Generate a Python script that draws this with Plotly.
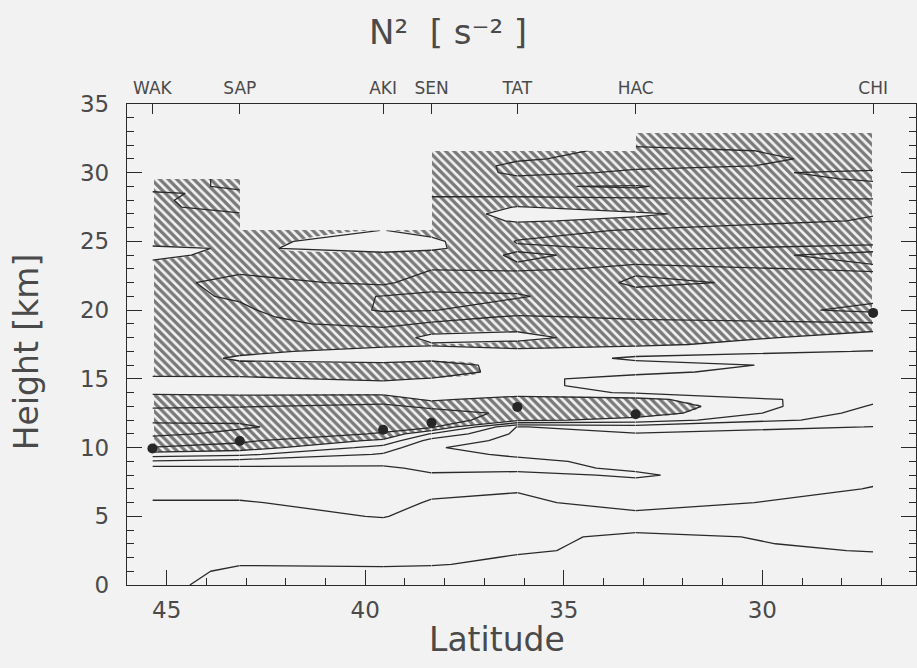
import plotly.graph_objects as go

# ---------------- data ----------------
stations = ["WAK", "SAP", "AKI", "SEN", "TAT", "HAC", "CHI"]
station_lat = [45.36, 43.16, 39.55, 38.33, 36.17, 33.19, 27.21]
data_top_km = [29.55, 29.55, 25.8, 31.6, 31.6, 32.9, 32.9]
tropopause_km = [9.93, 10.48, 11.3, 11.8, 12.96, 12.43, 19.8]

heights_km = [0, 1, 1.5, 2, 2.5, 3, 3.5, 4, 5, 6,
              7, 8, 8.5, 9, 9.5, 10, 10.5, 11, 11.5, 12,
              12.5, 13, 13.5, 14, 14.5, 15, 15.5, 16, 16.5, 17,
              17.5, 18, 18.5, 19, 19.5, 20, 21, 22, 23, 24,
              24.5, 25, 25.8, 26.5, 27, 27.5, 28, 28.5, 29, 29.55,
              30, 30.5, 31, 31.6, 32.2, 32.9]

# N^2 profiles (units of 1e-4 s^-2), one per station, up to each station's data top
n2_wak = [0.7, 0.7, 0.7, 0.7, 0.72, 0.74, 0.76, 0.8, 0.88, 0.96,
          1.2, 1.5, 1.7, 2.9, 4.5, 5.95, 6.6, 7.2, 7.3, 6.8,
          6.3, 5.9, 5.6, 4.8, 4.3, 4.7, 5.5, 5.7, 5.85, 5.9,
          5.85, 5.8, 5.8, 5.8, 5.8, 5.8, 5.75, 5.7, 5.7, 4.6,
          4.7, 5.6, 5.75, 5.8, 5.82, 5.85, 5.9, 5.97, 6.1, 6.2]
n2_sap = [1.4, 1.15, 0.97, 0.9, 0.85, 0.82, 0.8, 0.8, 0.86, 0.96,
          1.2, 1.5, 1.8, 2.6, 4.2, 5.6, 6.2, 6.8, 7.1, 6.9,
          6.4, 5.95, 5.5, 4.7, 4.3, 4.8, 5.4, 5.3, 4.8, 5.3,
          5.6, 5.7, 5.75, 5.8, 5.8, 5.85, 6.1, 6.3, 5.8, 5.5,
          5.15, 5.3, 5.95, 5.8, 5.95, 6.3, 6.3, 6.05, 5.95, 5.9]
n2_aki = [1.4, 1.1, 0.95, 0.9, 0.85, 0.83, 0.82, 0.82, 1.02, 1.2,
          1.35, 1.6, 1.85, 2.3, 2.9, 3.6, 4.8, 5.9, 6.4, 6.6,
          6.5, 6.2, 5.6, 4.7, 4.5, 5.2, 5.6, 5.3, 4.5, 4.5,
          5.3, 5.6, 5.8, 6.2, 6.6, 7.1, 7.05, 5.8, 5.6, 5.3,
          4.6, 4.5, 4.98]
n2_sen = [1.5, 1.15, 0.97, 0.9, 0.85, 0.82, 0.8, 0.8, 0.85, 0.95,
          1.15, 1.9, 2.2, 2.3, 2.2, 2.05, 2.6, 3.9, 6.2, 6.6,
          6.4, 5.8, 4.8, 4.4, 4.5, 4.9, 5.8, 5.6, 4.6, 4.6,
          5.1, 4.7, 5.3, 5.9, 6.3, 7.05, 7.2, 6.6, 5.95, 5.5,
          4.8, 4.8, 5.3, 5.6, 5.7, 5.8, 5.9, 6.1, 6.2, 6.3,
          6.3, 6.4, 6.5, 6.6]
n2_tat = [1.4, 1.2, 1.1, 1.03, 0.96, 0.92, 0.9, 0.88, 0.88, 0.95,
          1.02, 1.8, 2.2, 2.15, 1.9, 1.75, 1.7, 1.8, 1.95, 5.3,
          5.8, 5.9, 5.5, 4.4, 4.2, 4.1, 4.4, 4.5, 4.4, 4.8,
          5.3, 4.7, 5.05, 5.6, 5.9, 6.4, 7.1, 6.6, 5.9, 6.1,
          5.9, 6.05, 5.6, 4.9, 4.6, 4.95, 5.8, 6.2, 6.05, 6.8,
          7.2, 7.2, 6.9, 6.7]
n2_hac = [1.5, 1.3, 1.2, 1.12, 1.08, 1.1, 1.08, 0.95, 0.93, 1.1,
          1.6, 2.1, 1.9, 1.8, 1.75, 1.8, 1.85, 1.95, 2.5, 4.6,
          5.6, 5.8, 5.3, 3.9, 3.7, 3.85, 4.1, 4.2, 3.9, 4.3,
          5.2, 5.6, 5.7, 5.8, 6.1, 6.3, 6.2, 5.9, 6.1, 5.8,
          6.05, 6.2, 6.1, 5.2, 4.85, 5.4, 5.9, 6.2, 5.95, 6.4,
          6.9, 7.1, 7.3, 7.2, 6.8, 6.6]
n2_chi = [1.3, 1.2, 1.12, 1.05, 0.99, 0.93, 0.9, 0.88, 0.88, 0.9,
          0.97, 1.15, 1.3, 1.45, 1.6, 1.7, 1.8, 1.9, 1.98, 2.3,
          2.6, 2.9, 3.2, 3.4, 3.5, 3.6, 3.7, 3.8, 3.9, 3.97,
          4.3, 4.6, 5.05, 5.9, 6.5, 7.2, 6.8, 6.2, 5.95, 6.1,
          5.9, 6.1, 6.2, 6.1, 5.95, 5.9, 5.95, 6.2, 6.8, 7.1,
          7.05, 6.9, 6.85, 6.8, 6.7, 6.6]

profiles = [n2_wak, n2_sap, n2_aki, n2_sen, n2_tat, n2_hac, n2_chi]
contour_levels = dict(start=1, end=9, size=1)
hatch_threshold = 5

# ---------------- style ----------------
BG = "#f2f2f2"
INK = "#2a2a2a"
TXT = "#4a4a4a"
FONT = "DejaVu Sans"
XR = [46, 26.13]
EDGE_INSET = 0.03   # keeps the hatching from peeking out at the outer fill edges

fig = go.Figure()

# hatched data blocks (station to station, up to the lower data top)
n_blocks = len(stations) - 1
for i in range(n_blocks):
    top = min(data_top_km[i], data_top_km[i + 1])
    left = station_lat[i] - (EDGE_INSET if i == 0 else 0)
    right = station_lat[i + 1] + (EDGE_INSET if i == n_blocks - 1 else 0)
    fig.add_trace(go.Bar(
        x=[(left + right) / 2], y=[top], base=0, width=[left - right],
        marker=dict(color=BG, line=dict(width=0),
                    pattern=dict(shape="\\", fgcolor="#000000", bgcolor=BG,
                                 size=6, solidity=0.55)),
        xaxis="x", yaxis="y", hoverinfo="skip", showlegend=False))

# one fill trace over all stations: blank out where N2 is below the threshold
order = list(range(len(stations)))[::-1]          # increasing latitude
fill_x = [station_lat[j] for j in order]
fill_z = [[(-profiles[j][k] if k < len(profiles[j]) else None) for j in order]
          for k in range(len(heights_km))]
fig.add_trace(go.Contour(
    x=fill_x, y=heights_km, z=fill_z, connectgaps=True,
    autocontour=False,
    contours=dict(start=-hatch_threshold, end=-hatch_threshold, size=1,
                  coloring="fill", showlines=False),
    colorscale=[[0, "rgba(242,242,242,0)"], [1, BG]],
    showscale=False, line=dict(width=0), hoverinfo="skip",
    xaxis="x2", yaxis="y"))

# contour lines per block (overlay subplot so that they sit above the hatching)
for i in range(n_blocks):
    top = min(data_top_km[i], data_top_km[i + 1])
    rows = [k for k, h in enumerate(heights_km) if h <= top + 1e-9]
    ys = [heights_km[k] for k in rows]
    xs = [station_lat[i + 1], station_lat[i]]
    zs = [[profiles[i + 1][k], profiles[i][k]] for k in rows]
    fig.add_trace(go.Contour(
        x=xs, y=ys, z=zs, autocontour=False,
        contours=dict(coloring="none", **contour_levels),
        line=dict(color=INK, width=1.3, smoothing=0),
        showscale=False, hoverinfo="skip", xaxis="x2", yaxis="y"))

# tropopause dots
fig.add_trace(go.Scatter(
    x=station_lat, y=tropopause_km, mode="markers",
    marker=dict(color="#262626", size=10),
    xaxis="x2", yaxis="y", hoverinfo="skip", showlegend=False))

axis_common = dict(showgrid=False, zeroline=False, linecolor=INK, linewidth=1.3,
                   tickcolor=INK, tickwidth=1.3)

fig.update_layout(
    width=917, height=668,
    margin=dict(l=127, r=1, t=104, b=83),
    paper_bgcolor=BG, plot_bgcolor=BG,
    barmode="overlay", bargap=0, showlegend=False,
    xaxis=dict(range=XR, tickvals=[45, 40, 35, 30], ticks="inside", ticklen=15,
               showline=True, mirror=True,
               minor=dict(dtick=1, tick0=0, ticks="inside", ticklen=7,
                          tickcolor=INK, tickwidth=1),
               tickfont=dict(family=FONT, size=23, color=TXT),
               ticklabelstandoff=4, **axis_common),
    xaxis2=dict(range=XR, overlaying="x", side="top", tickvals=station_lat,
                ticktext=stations, ticks="inside", ticklen=10, showline=False,
                tickfont=dict(family=FONT, size=17, color=TXT),
                ticklabelstandoff=6, **axis_common),
    yaxis=dict(range=[0, 35], tickvals=[0, 5, 10, 15, 20, 25, 30, 35],
               ticks="inside", ticklen=15, showline=True, mirror="ticks",
               minor=dict(dtick=1, tick0=0, ticks="inside", ticklen=7,
                          tickcolor=INK, tickwidth=1),
               tickfont=dict(family=FONT, size=23, color=TXT),
               ticklabelstandoff=12, **axis_common),
    annotations=[
        dict(text="N²  [ s⁻² ]", xref="paper", yref="paper",
             x=0.407, y=1.15, xanchor="center", yanchor="middle", showarrow=False,
             font=dict(family=FONT, size=34, color=TXT)),
        dict(text="Latitude", xref="paper", yref="paper", x=0.469, y=-0.114,
             xanchor="center", yanchor="middle", showarrow=False,
             font=dict(family=FONT, size=33, color=TXT)),
        dict(text="Height [km]", xref="paper", yref="paper", x=-0.128, y=0.484,
             xanchor="center", yanchor="middle", showarrow=False, textangle=-90,
             font=dict(family=FONT, size=33, color=TXT)),
    ],
)

fig.write_html("out.html")
